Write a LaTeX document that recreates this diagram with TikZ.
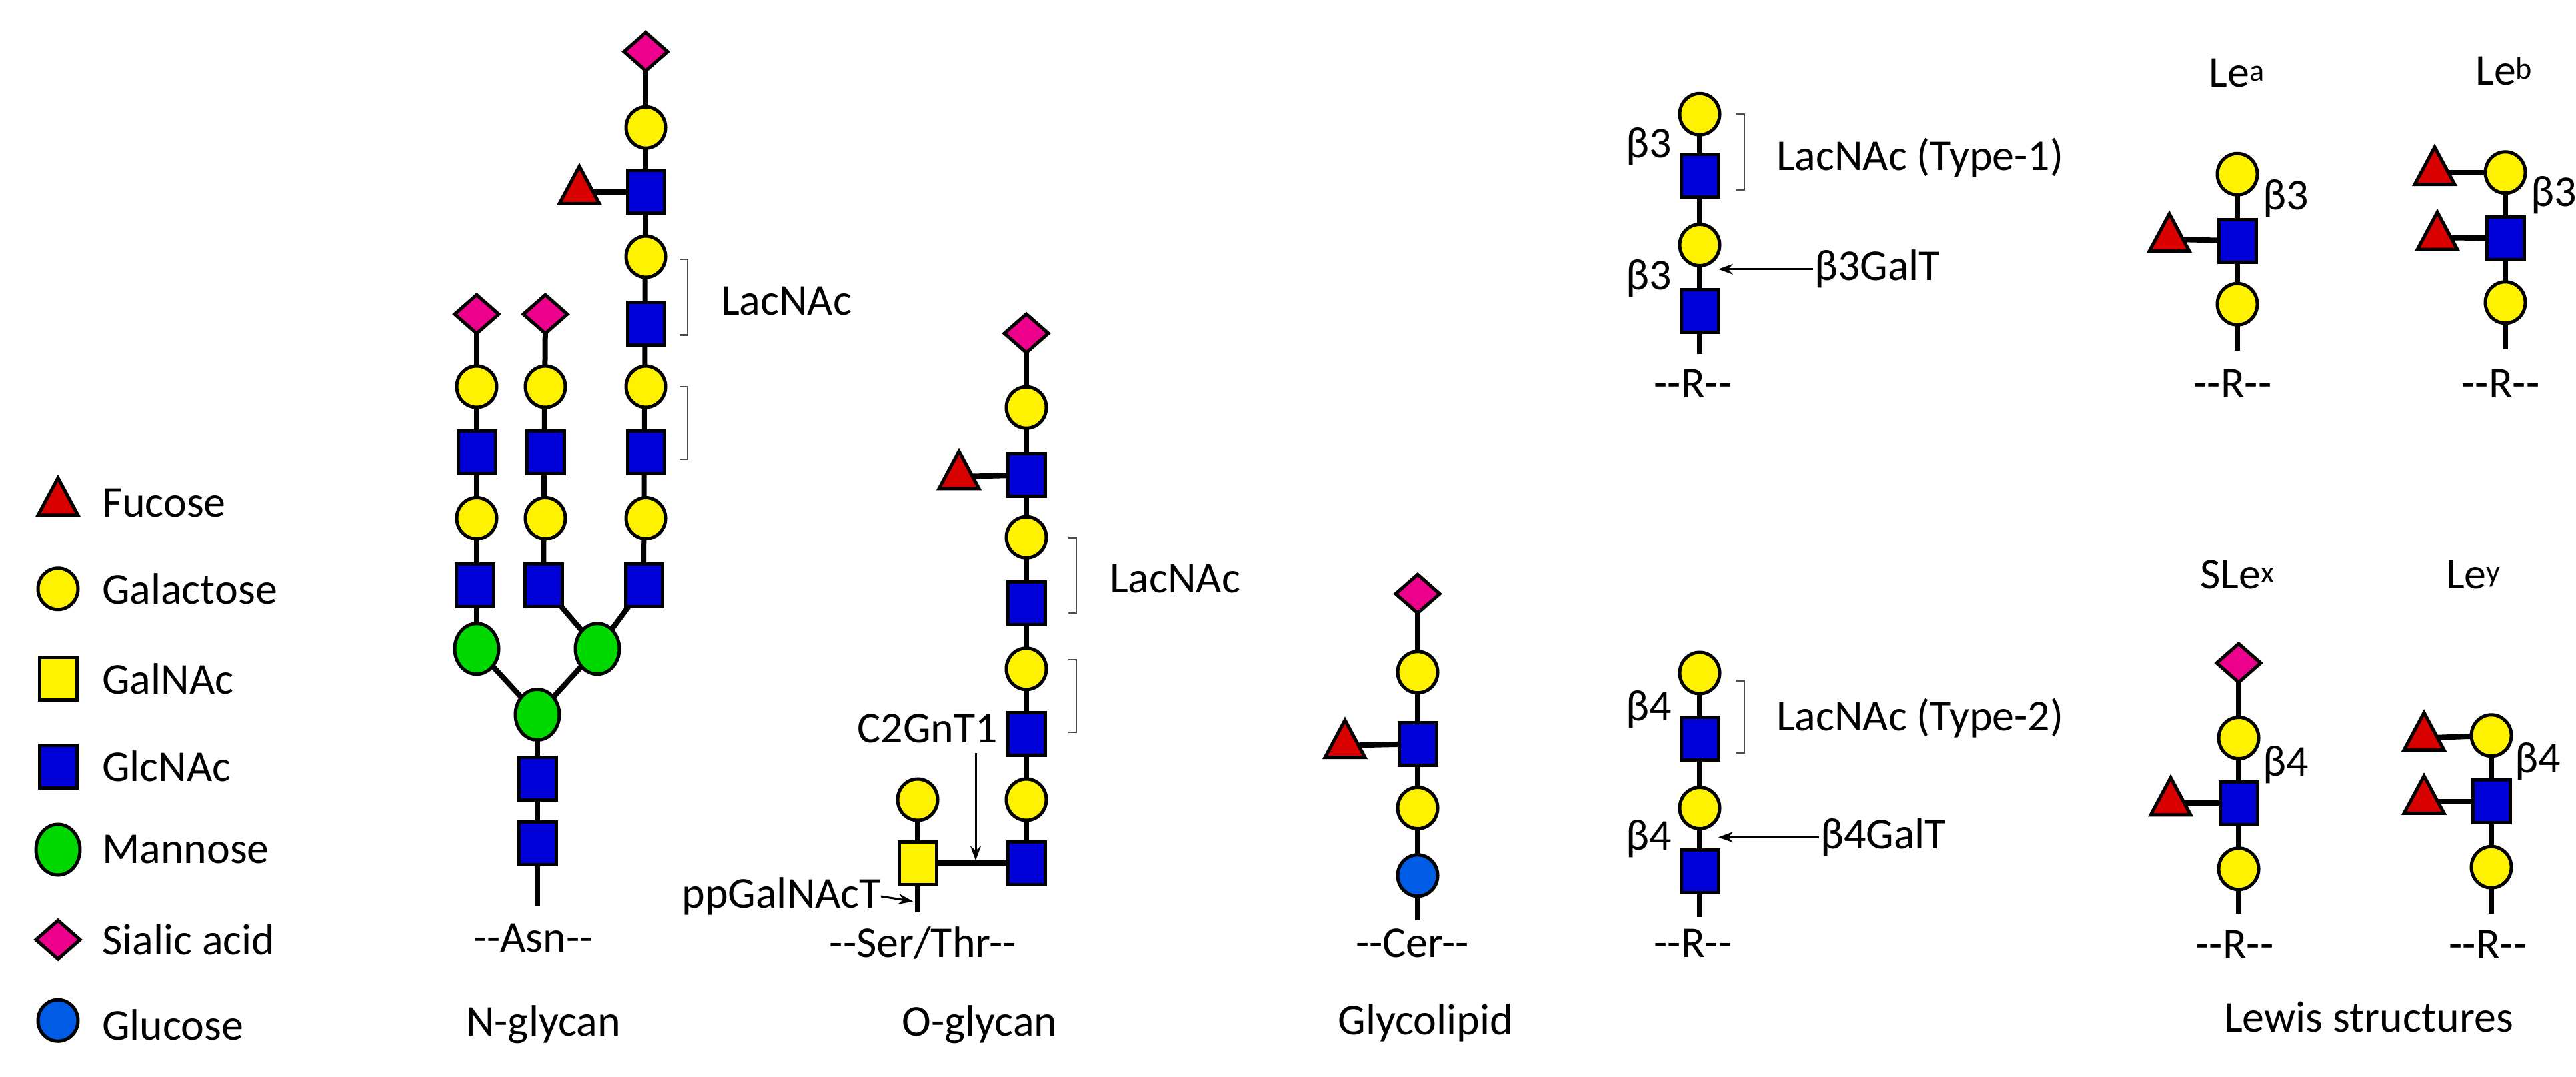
\documentclass[tikz,border=0pt]{standalone}
\usepackage{fontspec}
\setmainfont{Carlito}
\usetikzlibrary{shapes.geometric,backgrounds,arrows.meta}
\begin{document}
\begin{tikzpicture}[x=1pt,y=-1.25pt,
 every node/.style={inner sep=0pt,outer sep=0pt},
 sym/.style={draw=black,line width=5pt},
 gal/.style={sym,ellipse,minimum width=60pt,minimum height=62pt,fill=yellow},
 glcnac/.style={sym,rectangle,minimum width=56pt,minimum height=64pt,fill=blue!85!black},
 galnac/.style={sym,rectangle,minimum width=56pt,minimum height=64pt,fill=yellow},
 man/.style={sym,ellipse,minimum width=66pt,minimum height=76pt,fill=green!85!black},
 sia/.style={sym,diamond,minimum width=66pt,minimum height=58pt,fill=magenta},
 fuc/.style={sym,isosceles triangle,shape border rotate=90,isosceles triangle stretches,minimum width=60pt,minimum height=56pt,fill=red!85!black},
 glc/.style={sym,ellipse,minimum width=60pt,minimum height=62pt,fill=blue!60!cyan!90!black},
 lnk/.style={line width=8pt},
 txt/.style={font=\fontsize{66}{76}\selectfont},
 brk/.style={line width=2.5pt,draw=black!70},
 arr/.style={line width=3pt,-{Stealth[length=22pt,width=16pt]}}]
\useasboundingbox (0,0) rectangle (3865,1292.8);
% ---------- legend
\node[fuc] (lf) at (87,604) {};
\node[gal] (lg) at (87,707) {};
\node[galnac] (lgn) at (87,815) {};
\node[glcnac] (lgc) at (87,920) {};
\node[man] (lm) at (87,1020) {};
\node[sia] (ls) at (87,1128) {};
\node[glc] (lc) at (87,1225) {};
\node[txt,anchor=west] (tf) at (153,604) {Fucose};
\node[txt,anchor=west] (tg) at (153,707) {Galactose};
\node[txt,anchor=west] (tgn) at (153,815) {GalNAc};
\node[txt,anchor=west] (tgc) at (153,920) {GlcNAc};
\node[txt,anchor=west] (tm) at (153,1020) {Mannose};
\node[txt,anchor=west] (ts) at (153,1128) {Sialic acid};
\node[txt,anchor=west] (tc) at (153,1230) {Glucose};
% ---------- N-glycan
\node[sia] (n1) at (969,62) {};
\node[gal] (n2) at (969,153) {};
\node[glcnac] (n3) at (969,230) {};
\node[fuc] (nf) at (869,230) {};
\node[gal] (n4) at (969,308) {};
\node[glcnac] (n5) at (969,388) {};
\node[gal] (n6) at (969,464) {};
\node[glcnac] (n7) at (969,543) {};
\node[gal] (n8) at (969,622) {};
\node[glcnac] (n9) at (966,703) {};
\node[sia] (a1) at (715,377) {};
\node[gal] (a2) at (715,464) {};
\node[glcnac] (a3) at (715,543) {};
\node[gal] (a4) at (715,622) {};
\node[glcnac] (a5) at (712,703) {};
\node[sia] (b1) at (818,377) {};
\node[gal] (b2) at (818,464) {};
\node[glcnac] (b3) at (818,543) {};
\node[gal] (b4) at (818,622) {};
\node[glcnac] (b5) at (815,703) {};
\node[man] (ml) at (715,779) {};
\node[man] (mr) at (896,779) {};
\node[man] (mc) at (806,858) {};
\node[glcnac] (c1) at (806,935) {};
\node[glcnac] (c2) at (806,1012) {};
\coordinate (nend) at (806,1088);
\node[txt] (asn) at (800,1126) {-{}-Asn-{}-};
\node[txt] (ngly) at (815,1230) {N-glycan};
\draw[brk] (1020,311) -- (1032,311) -- (1032,402) -- (1020,402);
\draw[brk] (1020,464) -- (1032,464) -- (1032,551) -- (1020,551);
\node[txt,anchor=west] (nlac) at (1082,361) {LacNAc};
% ---------- O-glycan
\node[sia] (o1) at (1540,400) {};
\node[gal] (o2) at (1540,489) {};
\node[glcnac] (o3) at (1540,570) {};
\node[fuc] (of) at (1439,572) {};
\node[gal] (o4) at (1540,645) {};
\node[glcnac] (o5) at (1540,724) {};
\node[gal] (o6) at (1540,803) {};
\node[glcnac] (o7) at (1540,881) {};
\node[gal] (o8) at (1540,960) {};
\node[glcnac] (o9) at (1540,1036) {};
\node[galnac] (og) at (1377,1036) {};
\node[gal] (ogal) at (1377,960) {};
\coordinate (oend) at (1377,1095);
\draw[brk] (1603,645) -- (1615,645) -- (1615,736) -- (1603,736);
\draw[brk] (1603,792) -- (1615,792) -- (1615,879) -- (1603,879);
\node[txt,anchor=west] (olac) at (1665,695) {LacNAc};
\node[txt,anchor=east] (c2g) at (1497,875) {C2GnT1};
\coordinate (c2a) at (1464,904);
\coordinate (c2b) at (1464,1033);
\node[txt,anchor=east] (ppg) at (1322,1076) {ppGalNAcT};
\coordinate (ppb) at (1370,1082);
\node[txt] (ser) at (1385,1132) {-{}-Ser/Thr-{}-};
\node[txt] (ogly) at (1470,1230) {O-glycan};
% ---------- Glycolipid
\node[sia] (g1) at (2127,713) {};
\node[gal] (g2) at (2127,807) {};
\node[glcnac] (g3) at (2127,893) {};
\node[fuc] (gf) at (2018,895) {};
\node[gal] (g4) at (2127,970) {};
\node[glc] (g5) at (2127,1051) {};
\coordinate (gend) at (2127,1105);
\node[txt] (cer) at (2119,1132) {-{}-Cer-{}-};
\node[txt] (glyl) at (2139,1228) {Glycolipid};
% ---------- Type-1
\node[gal] (t1) at (2550,137) {};
\node[glcnac] (t2) at (2550,211) {};
\node[gal] (t3) at (2550,294) {};
\node[glcnac] (t4) at (2550,373) {};
\coordinate (tend) at (2550,425);
\node[txt] (tr) at (2540,460) {-{}-R-{}-};
\node[txt] (b31) at (2474,176) {β3};
\node[txt] (b32) at (2474,334) {β3};
\draw[brk] (2605,137) -- (2617,137) -- (2617,228) -- (2605,228);
\node[txt,anchor=west] (t1lab) at (2665,189) {LacNAc (Type-1)};
\node[txt,anchor=west] (b3g) at (2722,323) {β3GalT};
\coordinate (b3a) at (2720,323);
\coordinate (b3b) at (2578,323);
% ---------- Type-2
\node[gal] (u1) at (2550,808) {};
\node[glcnac] (u2) at (2550,887) {};
\node[gal] (u3) at (2550,970) {};
\node[glcnac] (u4) at (2550,1046) {};
\coordinate (uend) at (2550,1101);
\node[txt] (ur) at (2540,1132) {-{}-R-{}-};
\node[txt] (b41) at (2474,852) {β4};
\node[txt] (b42) at (2474,1007) {β4};
\draw[brk] (2605,817) -- (2617,817) -- (2617,904) -- (2605,904);
\node[txt,anchor=west] (t2lab) at (2665,862) {LacNAc (Type-2)};
\node[txt,anchor=west] (b4g) at (2731,1005) {β4GalT};
\coordinate (b4a) at (2729,1005);
\coordinate (b4b) at (2578,1005);
% ---------- Le a
\node[txt] (lea) at (3356,88) {Le\textsuperscript{a}};
\node[gal] (la1) at (3357,209) {};
\node[glcnac] (la2) at (3357,289) {};
\node[fuc] (laf) at (3255,287) {};
\node[gal] (la3) at (3357,365) {};
\coordinate (laend) at (3357,421);
\node[txt] (lar) at (3350,460) {-{}-R-{}-};
\node[txt] (lab) at (3430,238) {β3};
% ---------- Le b
\node[txt] (leb) at (3757,85) {Le\textsuperscript{b}};
\node[gal] (lb1) at (3759,207) {};
\node[fuc] (lbf1) at (3653,207) {};
\node[glcnac] (lb2) at (3759,286) {};
\node[fuc] (lbf2) at (3657,285) {};
\node[gal] (lb3) at (3759,363) {};
\coordinate (lbend) at (3759,419);
\node[txt] (lbr) at (3752,460) {-{}-R-{}-};
\node[txt] (lbb) at (3832,234) {β3};
% ---------- SLe x
\node[txt] (slex) at (3357,690) {SLe\textsuperscript{x}};
\node[sia] (sx0) at (3359,796) {};
\node[gal] (sx1) at (3359,886) {};
\node[glcnac] (sx2) at (3359,964) {};
\node[fuc] (sxf) at (3257,964) {};
\node[gal] (sx3) at (3359,1043) {};
\coordinate (sxend) at (3359,1097);
\node[txt] (sxr) at (3353,1134) {-{}-R-{}-};
\node[txt] (sxb) at (3430,918) {β4};
% ---------- Le y
\node[txt] (ley) at (3711,690) {Le\textsuperscript{y}};
\node[gal] (ly1) at (3738,883) {};
\node[fuc] (lyf1) at (3637,886) {};
\node[glcnac] (ly2) at (3738,962) {};
\node[fuc] (lyf2) at (3637,962) {};
\node[gal] (ly3) at (3738,1041) {};
\coordinate (lyend) at (3738,1097);
\node[txt] (lyr) at (3733,1134) {-{}-R-{}-};
\node[txt] (lyb) at (3808,914) {β4};
\node[txt] (lew) at (3554,1221) {Lewis structures};
% ---------- arrows
\draw[arr] (c2a) -- (c2b);
\draw[arr] (ppg.east) -- (ppb);
\draw[arr] (b3a) -- (b3b);
\draw[arr] (b4a) -- (b4b);
% ---------- links
\begin{scope}[on background layer]
\draw[lnk] (n1.center) -- (n9.center);
\draw[lnk] (nf.center) -- (n3.center);
\draw[lnk] (a1.center) -- (ml.center);
\draw[lnk] (b1.center) -- (b5.center);
\draw[lnk] (b5.center) -- (mr.center) -- (n9.center);
\draw[lnk] (ml.center) -- (mc.center) -- (mr.center);
\draw[lnk] (mc.center) -- (nend);
\draw[lnk] (o1.center) -- (o9.center) -- (og.center) -- (ogal.center);
\draw[lnk] (of.center) -- (o3.center);
\draw[lnk] (og.center) -- (oend);
\draw[lnk] (g1.center) -- (gend);
\draw[lnk] (gf.center) -- (g3.center);
\draw[lnk] (t1.center) -- (tend);
\draw[lnk] (u1.center) -- (uend);
\draw[lnk] (la1.center) -- (laend);
\draw[lnk] (laf.center) -- (la2.center);
\draw[lnk] (lb1.center) -- (lbend);
\draw[lnk] (lbf1.center) -- (lb1.center);
\draw[lnk] (lbf2.center) -- (lb2.center);
\draw[lnk] (sx0.center) -- (sxend);
\draw[lnk] (sxf.center) -- (sx2.center);
\draw[lnk] (ly1.center) -- (lyend);
\draw[lnk] (lyf1.center) -- (ly1.center);
\draw[lnk] (lyf2.center) -- (ly2.center);
\end{scope}
\end{tikzpicture}
\end{document}
